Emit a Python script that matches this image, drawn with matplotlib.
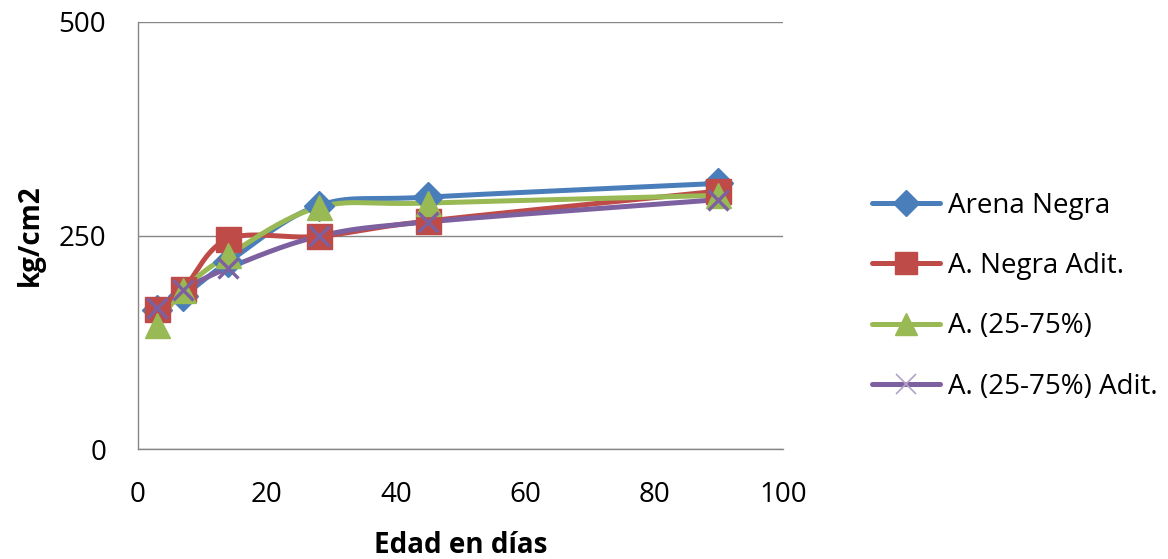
import numpy as np
import matplotlib
matplotlib.use("Agg")
import matplotlib.pyplot as plt
from matplotlib.lines import Line2D

plt.rcParams['font.family'] = ['Open Sans', 'DejaVu Sans']

dias = [3, 7, 14, 28, 45, 90]
arena_negra = [163, 179, 219, 285, 295, 311]
a_negra_adit = [164, 187, 246, 249, 267, 302]
a_25_75 = [145, 186, 227, 283, 288, 297]
a_25_75_adit = [165, 186, 212, 249, 266, 292]

series = [
    ("Arena Negra", arena_negra, "#4A7EBB", "D", 15),
    ("A. Negra Adit.", a_negra_adit, "#BE4B48", "s", 18),
    ("A. (25-75%)", a_25_75, "#98B954", "^", 18),
    ("A. (25-75%) Adit.", a_25_75_adit, "#7D60A0", "x", 15),
]


def smooth(x, y, n=40):
    x = np.asarray(x, float)
    y = np.asarray(y, float)
    px = np.concatenate([[2 * x[0] - x[1]], x, [2 * x[-1] - x[-2]]])
    py = np.concatenate([[2 * y[0] - y[1]], y, [2 * y[-1] - y[-2]]])
    xs, ys = [], []
    for i in range(1, len(px) - 2):
        p0, p1, p2, p3 = (np.array([px[j], py[j]]) for j in (i - 1, i, i + 1, i + 2))
        c1 = p1 + (p2 - p0) / 6.0
        c2 = p2 - (p3 - p1) / 6.0
        t = np.linspace(0, 1, n)[:, None]
        b = ((1 - t) ** 3) * p1 + 3 * ((1 - t) ** 2) * t * c1 + 3 * (1 - t) * t ** 2 * c2 + t ** 3 * p2
        xs.append(b[:, 0])
        ys.append(b[:, 1])
    return np.concatenate(xs), np.concatenate(ys)


fig = plt.figure(figsize=(11.68, 5.59), dpi=100)
ax = fig.add_axes([138 / 1168, 110 / 559, 645 / 1168, 427 / 559])

handles = []
for name, vals, col, mk, ms in series:
    sx, sy = smooth(dias, vals)
    ax.plot(sx, sy, color=col, lw=3.6, solid_capstyle='round', zorder=2)
    if mk == 'x':
        ax.plot(dias, vals, linestyle='none', marker=mk, color=col, ms=ms, mew=2.4, zorder=3)
        h = Line2D([], [], color=col, lw=3.6, marker=mk, ms=ms, mew=1.2,
                   mec="#B3A2C7", solid_capstyle='round')
    else:
        ax.plot(dias, vals, linestyle='none', marker=mk, color=col, ms=ms, mec=col, zorder=3)
        h = Line2D([], [], color=col, lw=3.6, marker=mk, ms=ms - 2, mec=col,
                   solid_capstyle='round')
    handles.append(h)

ax.set_xlim(0, 100)
ax.set_ylim(0, 500)
ax.set_xticks([0, 20, 40, 60, 80, 100])
ax.set_yticks([0, 250, 500])
ax.yaxis.grid(True, color="#868686", lw=1.0)
ax.set_axisbelow(True)
for s in ("top", "right"):
    ax.spines[s].set_visible(False)
for s in ("left", "bottom"):
    ax.spines[s].set_color("#868686")
    ax.spines[s].set_linewidth(1.0)
ax.tick_params(length=0, labelsize=20, colors="#000000")
ax.tick_params(axis='x', pad=23)
ax.tick_params(axis='y', pad=23)
ax.set_xlabel("Edad en días", fontsize=20, fontweight='bold', labelpad=16)
ax.set_ylabel("kg/cm2", fontsize=20, fontweight='bold', labelpad=10)

leg = fig.legend(handles=handles, labels=[s[0] for s in series],
                 loc='upper left', bbox_to_anchor=(858 / 1168, 1 - 178 / 559),
                 frameon=False, fontsize=20, handlelength=2.45, handletextpad=0.3,
                 labelspacing=1.16, borderpad=0)

fig.savefig("out.png", dpi=100)
